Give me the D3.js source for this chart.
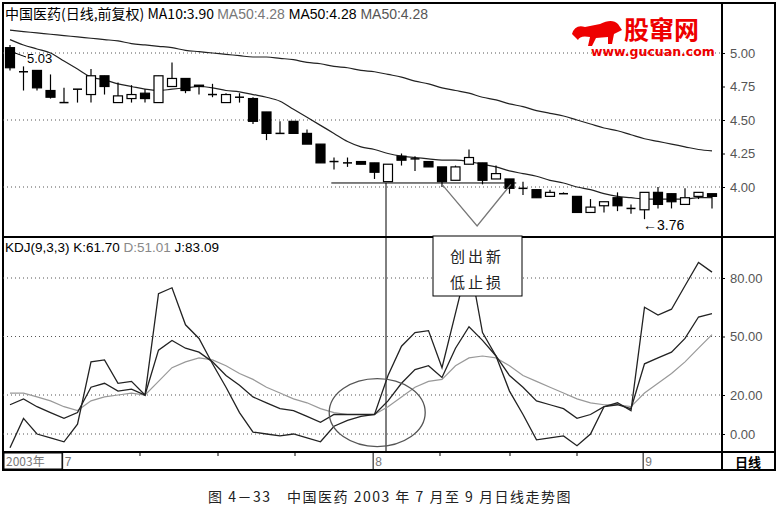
<!DOCTYPE html>
<html><head><meta charset="utf-8">
<script src="https://cdn.jsdelivr.net/npm/d3@7"></script>
<style>body{margin:0;background:#fff}svg{display:block}</style>
</head><body>
<script>
const opens =[5.04,4.86,4.87,4.72,4.63,4.73,4.69,4.83,4.63,4.66,4.70,4.63,4.75,4.81,4.76,4.69,4.63,4.67,4.66,4.56,4.40,4.49,4.40,4.32,4.19,4.18,4.19,4.18,4.04,4.23,4.21,4.19,4.15,4.05,4.17,4.18,4.06,4.06,3.99,3.98,3.93,3.95,3.93,3.81,3.86,3.92,3.84,3.83,3.96,3.95,3.87,3.93,3.95];
const highs =[5.06,4.90,4.87,4.84,4.74,4.73,4.88,4.83,4.78,4.76,4.73,4.83,4.93,4.81,4.76,4.77,4.70,4.70,4.67,4.56,4.49,4.49,4.43,4.32,4.22,4.22,4.19,4.18,4.17,4.25,4.23,4.19,4.15,4.16,4.28,4.18,4.16,4.06,4.04,3.98,3.98,3.96,3.93,3.91,3.89,3.96,3.87,3.96,4.00,3.95,3.99,3.96,3.95];
const lows  =[4.87,4.72,4.72,4.66,4.63,4.63,4.63,4.69,4.63,4.63,4.63,4.63,4.75,4.70,4.69,4.67,4.63,4.63,4.47,4.35,4.40,4.40,4.32,4.18,4.13,4.15,4.17,4.06,4.04,4.16,4.12,4.15,4.00,4.05,4.17,4.02,4.06,3.95,3.94,3.92,3.93,3.95,3.81,3.81,3.81,3.82,3.80,3.76,3.84,3.84,3.87,3.91,3.84];
const closes=[4.89,4.86,4.74,4.67,4.63,4.73,4.83,4.75,4.68,4.69,4.66,4.83,4.81,4.72,4.75,4.69,4.69,4.67,4.49,4.40,4.40,4.40,4.32,4.18,4.19,4.18,4.17,4.11,4.17,4.20,4.21,4.15,4.04,4.15,4.22,4.05,4.10,3.99,3.99,3.92,3.96,3.95,3.81,3.85,3.89,3.86,3.84,3.96,3.87,3.89,3.92,3.96,3.93];
const ma10=[5.10,5.06,5.03,5.00,4.94,4.88,4.82,4.80,4.77,4.75,4.73,4.72,4.73,4.74,4.75,4.74,4.72,4.71,4.69,4.67,4.64,4.58,4.52,4.46,4.40,4.34,4.30,4.28,4.25,4.23,4.22,4.21,4.20,4.20,4.19,4.17,4.15,4.12,4.10,4.08,4.05,4.03,4.00,3.98,3.95,3.93,3.92,3.91,3.91,3.91,3.91,3.92,3.92];
const ma50=[5.17,5.16,5.15,5.14,5.13,5.12,5.11,5.10,5.09,5.07,5.06,5.05,5.04,5.02,5.01,5.00,4.99,4.98,4.97,4.97,4.96,4.95,4.93,4.92,4.90,4.89,4.87,4.86,4.84,4.82,4.79,4.77,4.74,4.72,4.70,4.67,4.65,4.62,4.60,4.57,4.55,4.53,4.50,4.47,4.44,4.42,4.39,4.36,4.34,4.32,4.30,4.28,4.27];
const kVals=[15,18,14,11,8,11,24,26,22,23,20,43,48,44,42,37,30,25,19,16,13,12,9,6,10,10,10,10,17,26,33,35,29,44,55,48,40,30,24,17,15,13,8,10,14,15,13,36,39,42,49,60,61.7];
const dVals=[21,21,19,17,14,12,17,19,20,21,20,27,34,37,39,38,35,31,28,24,21,18,16,13,11,10,10,10,14,19,24,27,28,35,39,40,39,35,30,27,24,21,18,16,15,15,14,21,26,31,37,44,51];
const jVals=[-7,8,0,-2,-4,5,37,38,26,27,20,72,75,56,49,36,24,11,1,0,-1,0,-2,-4,4,7,9,10,30,45,52,53,34,62,90,52,40,22,10,-3,-2,-1,-6,0,14,16,12,65,61,64,76,88,83];
const priceTicks=[5.00,4.75,4.50,4.25,4.00];
const kdjTicks=[80,50,20,0];
const monthLabels=[{i:3.9,t:"7"},{i:26.9,t:"8"},{i:46.9,t:"9"}];

const W=779,H=515;
const svg=d3.select("body").append("svg").attr("width",W).attr("height",H);
const F="Liberation Sans, Arial, sans-serif";
const x=d3.scaleLinear().domain([0,52]).range([10,712]);
const y=d3.scaleLinear().domain([4,5]).range([187,53]);
const yk=d3.scaleLinear().domain([0,80]).range([434,278]);
const L=3,R=722,RA=775;

const fr=(x0,y0,w,h,sw)=>svg.append("rect").attr("x",x0).attr("y",y0).attr("width",w).attr("height",h).attr("fill","none").attr("stroke","#000").attr("stroke-width",sw||1.5);
fr(L,3,RA-L,467,2);
svg.append("line").attr("x1",R).attr("x2",R).attr("y1",3).attr("y2",470).attr("stroke","#000").attr("stroke-width",2);
svg.append("line").attr("x1",L).attr("x2",RA).attr("y1",237).attr("y2",237).attr("stroke","#000").attr("stroke-width",2);
svg.append("line").attr("x1",L).attr("x2",RA).attr("y1",452).attr("y2",452).attr("stroke","#000").attr("stroke-width",2);

[5,4.5,4].forEach(v=>svg.append("line").attr("x1",L).attr("x2",R).attr("y1",y(v)).attr("y2",y(v)).attr("stroke","#555").attr("stroke-dasharray","1,3"));
kdjTicks.forEach(v=>svg.append("line").attr("x1",L).attr("x2",R).attr("y1",yk(v)).attr("y2",yk(v)).attr("stroke","#555").attr("stroke-dasharray","1,3"));

const ax1=svg.append("g").attr("transform",`translate(${R},0)`).call(d3.axisRight(y).tickValues(priceTicks).tickFormat(d3.format(".2f")).tickSize(3));
const ax2=svg.append("g").attr("transform",`translate(${R},0)`).call(d3.axisRight(yk).tickValues(kdjTicks).tickFormat(d3.format(".2f")).tickSize(3));
[ax1,ax2].forEach(a=>{a.select(".domain").remove();a.selectAll("text").attr("font-family",F).attr("font-size",13).attr("fill","#555").attr("x",8);});

const line=d3.line().x((d,i)=>x(i)).y(d=>y(d)).curve(d3.curveMonotoneX);
svg.append("path").attr("d",line(ma50)).attr("fill","none").attr("stroke","#222").attr("stroke-width",1.2);
svg.append("path").attr("d",line(ma10)).attr("fill","none").attr("stroke","#222").attr("stroke-width",1.2);

const bw=9;
opens.forEach((o,i)=>{
  const c=closes[i],cx=x(i);
  const g=svg.append("g");
  g.append("line").attr("x1",cx).attr("x2",cx).attr("y1",y(highs[i])).attr("y2",y(lows[i])).attr("stroke","#000").attr("stroke-width",1.2);
  if(Math.abs(c-o)<0.005){
    g.append("line").attr("x1",cx-bw/2).attr("x2",cx+bw/2).attr("y1",y(o)).attr("y2",y(o)).attr("stroke","#000").attr("stroke-width",1.5);
  } else {
    const top=y(Math.max(o,c)),bot=y(Math.min(o,c));
    g.append("rect").attr("x",cx-bw/2).attr("y",top).attr("width",bw).attr("height",bot-top)
      .attr("fill",c<o?"#000":"#fff").attr("stroke","#000").attr("stroke-width",1.2);
  }
});

svg.append("line").attr("x1",x(23.8)).attr("x2",x(37.5)).attr("y1",y(4.03)).attr("y2",y(4.03)).attr("stroke","#000");
svg.append("path").attr("d",`M${x(32)},${y(4.02)}L${x(34.6)},${y(3.71)}L${x(37.1)},${y(4.02)}`).attr("fill","none").attr("stroke","#777").attr("stroke-width",1.3);
svg.append("line").attr("x1",x(28)-2).attr("x2",x(28)-2).attr("y1",y(4.03)).attr("y2",452).attr("stroke","#000");
svg.append("line").attr("x1",15).attr("x2",26).attr("y1",53).attr("y2",57).attr("stroke","#000");
svg.append("text").attr("x",27).attr("y",63).text("5.03").attr("font-family",F).attr("font-size",13).attr("fill","#000");
svg.append("text").attr("x",643).attr("y",230).text("←3.76").attr("font-family",F).attr("font-size",14).attr("fill","#000");

const hd=svg.append("text").attr("x",5).attr("y",19).attr("font-family",F).attr("font-size",14);
hd.append("tspan").text("中国医药(日线,前复权) MA10:3.90 ").attr("font-family","Noto Sans CJK SC, "+F).attr("fill","#000");
hd.append("tspan").text("MA50:4.28 ").attr("fill","#777");
hd.append("tspan").text("MA50:4.28 ").attr("fill","#000");
hd.append("tspan").text("MA50:4.28").attr("fill","#555");

svg.append("path").attr("d","M572,34 Q575,24 585,27 L600,24 Q612,18 618,24 L622,30 L614,34 L612,44 L608,44 L608,37 L596,38 L592,46 L588,46 L590,37 Q580,35 578,40 Z").attr("fill","#e00");
svg.append("text").attr("x",624).attr("y",39).text("股窜网").attr("font-family","Noto Sans CJK SC").attr("font-weight","bold").attr("font-size",25).attr("fill","#e00");
svg.append("text").attr("x",591).attr("y",56).text("www.gucuan.com").attr("font-family","DejaVu Sans, sans-serif").attr("font-weight","bold").attr("font-size",12.5).attr("fill","#e00");

const kl=d3.line().x((d,i)=>x(i)).y(d=>yk(d));
svg.append("path").attr("d",kl(dVals)).attr("fill","none").attr("stroke","#999").attr("stroke-width",1.2);
svg.append("path").attr("d",kl(kVals)).attr("fill","none").attr("stroke","#222").attr("stroke-width",1.3);
svg.append("path").attr("d",kl(jVals)).attr("fill","none").attr("stroke","#222").attr("stroke-width",1.3);
const kh=svg.append("text").attr("x",5).attr("y",252).attr("font-family",F).attr("font-size",13.5);
kh.append("tspan").text("KDJ(9,3,3) K:61.70 ").attr("fill","#000");
kh.append("tspan").text("D:51.01 ").attr("fill","#888");
kh.append("tspan").text("J:83.09").attr("fill","#000");

svg.append("ellipse").attr("cx",x(27.2)).attr("cy",yk(11)).attr("rx",48).attr("ry",34).attr("fill","none").attr("stroke","#555").attr("stroke-width",1.3);
svg.append("rect").attr("x",433).attr("y",236).attr("width",89).attr("height",60).attr("fill","#fff").attr("stroke","#000");
svg.append("text").attr("x",477).attr("y",262).attr("text-anchor","middle").text("创出新").attr("font-family","Noto Sans CJK SC").attr("font-size",15).attr("letter-spacing",3).attr("fill","#222");
svg.append("text").attr("x",477).attr("y",288).attr("text-anchor","middle").text("低止损").attr("font-family","Noto Sans CJK SC").attr("font-size",15).attr("letter-spacing",3).attr("fill","#222");

svg.append("rect").attr("x",L+1).attr("y",453).attr("width",58).attr("height",16).attr("fill","none").attr("stroke","#000");
svg.append("text").attr("x",6).attr("y",466).text("2003年").attr("font-family","Noto Sans CJK SC").attr("font-size",12).attr("fill","#777");
monthLabels.forEach(m=>{
  const xx=x(m.i);
  svg.append("line").attr("x1",xx).attr("x2",xx).attr("y1",452).attr("y2",470).attr("stroke","#000");
  svg.append("text").attr("x",xx+2).attr("y",466).text(m.t).attr("font-family",F).attr("font-size",12).attr("fill","#777");
});
[140,218,295,440,510,577].forEach(t=>svg.append("line").attr("x1",t).attr("x2",t).attr("y1",452).attr("y2",456).attr("stroke","#000"));
svg.append("text").attr("x",748).attr("y",467).attr("text-anchor","middle").text("日线").attr("font-family","Noto Sans CJK SC").attr("font-weight","bold").attr("font-size",13).attr("fill","#000");

svg.append("text").attr("x",390).attr("y",502).attr("text-anchor","middle").text("图 4－33　中国医药 2003 年 7 月至 9 月日线走势图").attr("font-family","Noto Sans CJK SC").attr("font-size",14).attr("letter-spacing",1.5).attr("fill","#222");
</script>
</body></html>
